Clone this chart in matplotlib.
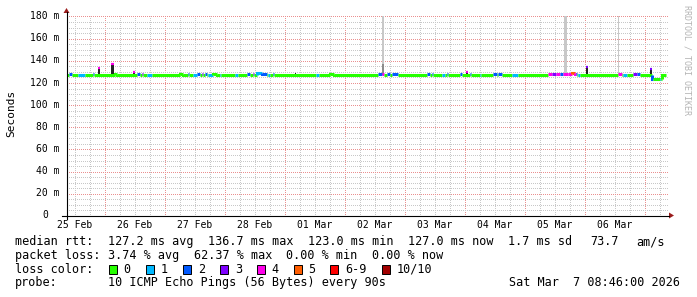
import math
import matplotlib
matplotlib.use("Agg")
import matplotlib.pyplot as plt
import matplotlib.transforms as mtransforms
from matplotlib.patches import Polygon, Rectangle
from matplotlib.lines import Line2D

# ---------------- data ----------------
# time axis: hours since 25 Feb 2026 00:00; graph covers 10 days ending Sat Mar 7 08:46
t_first = 8.767
t_last = 248.767

day_labels = ["25 Feb", "26 Feb", "27 Feb", "28 Feb", "01 Mar",
              "02 Mar", "03 Mar", "04 Mar", "05 Mar", "06 Mar"]
day_label_hours = [12, 36, 60, 84, 108, 132, 156, 180, 204, 228]

y_ticks = [0, 20, 40, 60, 80, 100, 120, 140, 160, 180]
y_tick_labels = ["0", "20 m", "40 m", "60 m", "80 m", "100 m",
                 "120 m", "140 m", "160 m", "180 m"]

# median rtt (ms) as runs: each run lasts until the next start
run_start = [8.8, 9.8, 11.0, 13.4, 16.2, 19.4, 19.8, 28.2, 29.0, 37.0,
             38.2, 39.0, 39.4, 41.0, 43.0, 54.2, 55.4, 57.4, 57.8, 59.4,
             61.0, 62.2, 63.0, 63.4, 64.2, 65.0, 65.4, 67.4, 69.0, 70.2,
             70.6, 76.2, 77.4, 81.0, 82.2, 83.4, 83.8, 85.0, 87.0, 89.0,
             89.4, 90.2, 91.4, 91.8, 108.6, 109.8, 114.2, 115.8, 133.4, 135.0,
             135.8, 137.0, 138.2, 139.0, 141.4, 153.0, 154.2, 155.0, 155.4, 159.0,
             160.2, 161.0, 161.4, 166.2, 167.0, 170.2, 170.6, 174.2, 174.6, 179.4,
             181.0, 181.4, 183.0, 187.0, 189.4, 201.4, 203.0, 204.6, 206.2, 207.4,
             209.4, 211.0, 212.2, 212.6, 213.0, 213.4, 214.2, 229.4, 231.0, 231.4,
             233.0, 235.4, 237.0, 238.2, 243.0, 243.4, 246.2, 246.6, 247.0]
run_rtt = [127.0, 127.3, 127.0, 127.0, 127.0, 127.3, 127.0, 128.0, 127.0, 127.3,
           127.0, 127.3, 127.0, 127.0, 127.0, 128.0, 127.0, 127.3, 127.0, 127.0,
           127.3, 127.0, 127.3, 127.0, 127.3, 127.0, 127.0, 128.0, 127.0, 127.0,
           127.0, 127.0, 127.0, 127.3, 127.0, 127.3, 127.0, 128.2, 127.3, 127.0,
           127.0, 127.0, 127.3, 127.0, 127.0, 127.0, 128.0, 127.0, 127.3, 127.5,
           127.0, 127.3, 127.0, 127.3, 127.0, 127.3, 127.0, 127.3, 127.0, 127.0,
           127.0, 127.3, 127.0, 127.3, 127.0, 127.3, 127.0, 127.0, 127.0, 127.3,
           127.0, 127.3, 127.0, 127.0, 127.0, 127.3, 127.3, 127.3, 127.3, 127.3,
           127.3, 128.3, 127.3, 127.3, 127.0, 127.0, 127.0, 127.3, 127.0, 127.0,
           127.0, 127.3, 127.3, 127.0, 123.0, 123.0, 123.0, 123.0, 127.0]
run_loss = [0, 2, 0, 1, 0, 2, 0, 0, 0, 2,
            0, 3, 0, 1, 0, 0, 0, 2, 0, 1,
            2, 0, 3, 0, 2, 0, 1, 0, 0, 1,
            0, 1, 0, 2, 0, 3, 0, 1, 2, 0,
            1, 0, 2, 0, 1, 0, 0, 0, 2, 4,
            0, 2, 0, 2, 0, 2, 0, 2, 0, 1,
            0, 2, 0, 2, 0, 2, 0, 1, 0, 2,
            0, 2, 0, 1, 0, 4, 3, 4, 2, 4,
            4, 5, 4, 2, 0, 1, 0, 4, 0, 1,
            0, 3, 2, 0, 2, 0, 1, 0, 0]
median_end = 248.6

# smoke (ping spread) spikes: start/end hour, low/high rtt (ms), shade 0=dark 1=mid 2=light
smoke_start = [21.4, 26.6, 35.4, 100.2, 135.0, 135.0, 168.6, 207.8, 216.6, 229.4, 242.2]
smoke_end = [22.2, 27.8, 36.2, 100.6, 135.6, 135.6, 169.4, 209.0, 217.4, 229.8, 243.0]
smoke_low = [127.0, 127.0, 127.0, 127.0, 137.0, 127.0, 127.0, 127.0, 127.0, 127.0, 127.0]
smoke_high = [134.0, 137.0, 130.5, 129.0, 185.0, 137.0, 130.0, 185.0, 135.0, 185.0, 133.0]
smoke_shade = [0, 0, 0, 0, 2, 1, 0, 2, 0, 2, 0]
smoke_tip_loss = [4, 4, 4, -1, -1, -1, 4, -1, 3, -1, 3]

loss_labels = ["0", "1", "2", "3", "4", "5", "6-9", "10/10"]
loss_colors = ["#26ff00", "#00b8ff", "#0059ff", "#7e00ff",
               "#ff00ea", "#ff5e00", "#ff0000", "#a10000"]

rtt_stats = ["127.2 ms avg", "136.7 ms max", "123.0 ms min", "127.0 ms now", "1.7 ms sd", "73.7", "am/s"]
loss_stats = ["3.74 % avg", "62.37 % max", "0.00 % min", "0.00 % now"]
probe_text = "10 ICMP Echo Pings (56 Bytes) every 90s"
stamp_text = "Sat Mar  7 08:46:00 2026"

# ---------------- drawing ----------------
W, H = 697, 297
MONO = "DejaVu Sans Mono"


def fx(x):
    return x / W


def fy(y):
    return 1 - y / H


fig = plt.figure(figsize=(W / 100, H / 100), dpi=100)
fig.patch.set_facecolor("white")

y0_px, y180_px = 215.5, 16.0
ax = fig.add_axes([fx(66.5), fy(y0_px), 600 / W, (y0_px - y180_px) / H])
ax.set_xlim(t_first, t_last)
ax.set_ylim(0, 180)
for s in ax.spines.values():
    s.set_visible(False)
ax.set_facecolor("white")
ax.set_xticks([])
ax.set_yticks([])

# dotted grid drawn on exact pixel centres (display coords)
ident = mtransforms.IdentityTransform()
DOT = (0.5, (1, 1))


def snap(v):
    return math.floor(v) + 0.5


xl, yb = ax.transData.transform((t_first, 0))
xr_, yt = ax.transData.transform((t_last, 180))
xl, xr_, yb, yt = snap(xl), snap(xr_) + 1, snap(yb), snap(yt)

major_x = [h for h in range(24, 249, 24)]
minor_x = [h for h in range(12, 249, 6) if h % 24]
minor_y = [v for v in range(5, 180, 5) if v % 20]
GRID_MINOR = "#C8C8C8"
GRID_MAJOR = "#EA9090"
for hours, col in ((minor_x, GRID_MINOR), (major_x, GRID_MAJOR)):
    for h in hours:
        xd = snap(ax.transData.transform((h, 0))[0])
        ax.add_line(Line2D([xd, xd], [yb, yt], transform=ident, color=col,
                           lw=0.72, linestyle=DOT, zorder=1, clip_on=False))
for vals, col in ((minor_y, GRID_MINOR), (y_ticks[1:], GRID_MAJOR)):
    for v in vals:
        yd = snap(ax.transData.transform((t_first, v))[1])
        ax.add_line(Line2D([xl, xr_], [yd, yd], transform=ident, color=col,
                           lw=0.72, linestyle=DOT, zorder=1, clip_on=False))

shade_colors = ["#222222", "#8C8C8C", "#C8C8C8"]
for s, e, lo, hi, sh in zip(smoke_start, smoke_end, smoke_low, smoke_high, smoke_shade):
    ax.bar(s, hi - lo, bottom=lo, width=e - s, align="edge",
           color=shade_colors[sh], lw=0, zorder=2)

# median line (step path coloured by loss)
LW = 2.2
prev = None
for i, (s, r, l) in enumerate(zip(run_start, run_rtt, run_loss)):
    e = run_start[i + 1] if i + 1 < len(run_start) else median_end
    xs, ys = [s, e], [r, r]
    if prev is not None and abs(prev - r) > 0.5:
        xs, ys = [s, s, e], [prev, r, r]
    ax.plot(xs, ys, color=loss_colors[l], lw=LW, solid_capstyle="butt",
            solid_joinstyle="miter", zorder=3)
    prev = r

for s, e, hi, tl in zip(smoke_start, smoke_end, smoke_high, smoke_tip_loss):
    if tl >= 0:
        ax.plot([s, e], [hi - 0.6, hi - 0.6], color=loss_colors[tl], lw=1.6,
                solid_capstyle="butt", zorder=4)

# axes lines + arrows
ARROW = "#9B1C1C"
fig.add_artist(Line2D([fx(62), fx(669)], [fy(215.5)] * 2, color="black", lw=0.8))
fig.add_artist(Line2D([fx(66.5)] * 2, [fy(219), fy(12)], color="black", lw=0.8))
fig.add_artist(Polygon([(fx(63.5), fy(13)), (fx(69.5), fy(13)), (fx(66.5), fy(8))],
                       closed=True, transform=fig.transFigure, color=ARROW, lw=0))
fig.add_artist(Polygon([(fx(669), fy(212.5)), (fx(669), fy(218.5)), (fx(674), fy(215.5))],
                       closed=True, transform=fig.transFigure, color=ARROW, lw=0))

# tick labels
charw7 = 0.602 * 7 * 100 / 72
for v, lab in zip(y_ticks, y_tick_labels):
    ypx = y0_px - v * (y0_px - y180_px) / 180
    xr = 59.5 if lab.endswith("m") else 59.5 - 2 * charw7
    fig.text(fx(xr), fy(ypx), lab, ha="right", va="center", fontsize=7, family=MONO)

blend = mtransforms.blended_transform_factory(ax.transData, fig.transFigure)
for h, lab in zip(day_label_hours, day_labels):
    ax.text(h, fy(225), lab, transform=blend, ha="center", va="center",
            fontsize=7, family=MONO, clip_on=False)

fig.text(fx(11), fy(113.5), "Seconds", rotation=90, ha="center", va="center",
         fontsize=8, family=MONO)
fig.text(fx(686.5), fy(60), "RRDTOOL / TOBI OETIKER", rotation=-90, ha="center",
         va="center", fontsize=6, family=MONO, color="#B4B4B4")

# legend rows
FS = 8.5
row1, row2, row3, row4 = 241.7, 255.2, 269.3, 282.8
fig.text(fx(15.2), fy(row1), "median rtt:", ha="left", va="center", fontsize=FS, family=MONO)
for txt, x in zip(rtt_stats, [108, 208, 308, 408, 508, 590, 636]):
    fig.text(fx(x), fy(row1), txt, ha="left", va="center", fontsize=FS, family=MONO)

fig.text(fx(15.2), fy(row2), "packet loss:", ha="left", va="center", fontsize=FS, family=MONO)
for txt, x in zip(loss_stats, [108, 193.7, 286.5, 372.2]):
    fig.text(fx(x), fy(row2), txt, ha="left", va="center", fontsize=FS, family=MONO)

fig.text(fx(15.2), fy(row3), "loss color:", ha="left", va="center", fontsize=FS, family=MONO)
box_x = [108.5, 145.8, 182.7, 219.7, 256.6, 293.5, 330.4, 381.5]
for bx, lab, col in zip(box_x, loss_labels, loss_colors):
    fig.add_artist(Rectangle((fx(bx), fy(row3 + 4.5)), 8 / W, 9 / H,
                             transform=fig.transFigure, facecolor=col,
                             edgecolor="black", lw=0.7))
    fig.text(fx(bx + 15), fy(row3), lab, ha="left", va="center", fontsize=FS, family=MONO)

fig.text(fx(15.2), fy(row4), "probe:", ha="left", va="center", fontsize=FS, family=MONO)
fig.text(fx(108), fy(row4), probe_text, ha="left", va="center", fontsize=FS, family=MONO)
fig.text(fx(680), fy(row4), stamp_text, ha="right", va="center", fontsize=FS, family=MONO)

fig.savefig("out.png", dpi=100, facecolor="white")
